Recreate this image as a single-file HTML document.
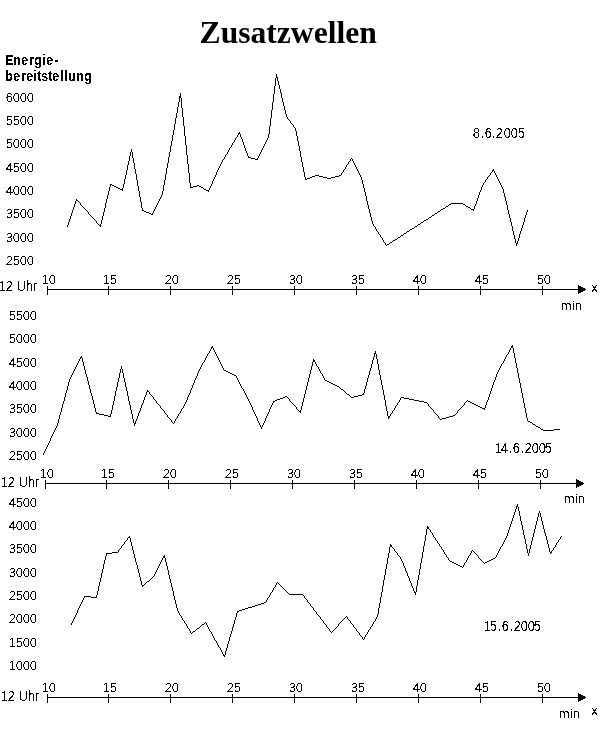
<!DOCTYPE html>
<html lang="de"><head><meta charset="utf-8"><title>Zusatzwellen</title>
<style>
html,body{margin:0;padding:0;background:#fff;}
body{width:606px;height:741px;overflow:hidden;position:relative;font-family:"Liberation Sans",Arial,sans-serif;}
svg{position:absolute;left:0;top:0;display:block;}
text{font-family:"Liberation Sans",Arial,sans-serif;font-size:13px;fill:#000;}
.t{font-family:"Liberation Serif","Times New Roman",serif;font-weight:bold;font-size:31.6px;}
.b{font-weight:bold;}
.c{fill:#000;shape-rendering:crispEdges;}
</style></head><body>
<svg width="606" height="741" viewBox="0 0 606 741">
<defs><filter id="th" x="0" y="0" width="606" height="741" filterUnits="userSpaceOnUse" color-interpolation-filters="sRGB"><feComponentTransfer><feFuncA type="discrete" tableValues="0 1"/></feComponentTransfer></filter></defs>
<rect width="606" height="741" fill="#fff"/>
<text class="t" x="199.6" y="42.5">Zusatzwellen</text>
<g filter="url(#th)">
<text class="b" transform="translate(0,65) scale(1,1.065)" x="5 13 21 29 34 42 46 54" y="0">Energie-</text>
<text class="b" transform="translate(0,81) scale(1,1.065)" x="5 13 21 26 33 37 41 48 52 60 64 68 76 84" y="0">bereitstellung</text>
<text x="5.75 12.75 19.75 26.75" y="102">6000</text>
<text x="5.75 12.75 19.75 26.75" y="125">5500</text>
<text x="5.75 12.75 19.75 26.75" y="148">5000</text>
<text x="5.75 12.75 19.75 26.75" y="172">4500</text>
<text x="5.75 12.75 19.75 26.75" y="195">4000</text>
<text x="5.75 12.75 19.75 26.75" y="218">3500</text>
<text x="5.75 12.75 19.75 26.75" y="242">3000</text>
<text x="5.75 12.75 19.75 26.75" y="265">2500</text>
<text x="8.75 15.75 22.75 29.75" y="320">5500</text>
<text x="8.75 15.75 22.75 29.75" y="343">5000</text>
<text x="8.75 15.75 22.75 29.75" y="367">4500</text>
<text x="8.75 15.75 22.75 29.75" y="390">4000</text>
<text x="8.75 15.75 22.75 29.75" y="413">3500</text>
<text x="8.75 15.75 22.75 29.75" y="437">3000</text>
<text x="8.75 15.75 22.75 29.75" y="460">2500</text>
<text x="8.75 15.75 22.75 29.75" y="507">4500</text>
<text x="8.75 15.75 22.75 29.75" y="530">4000</text>
<text x="8.75 15.75 22.75 29.75" y="553">3500</text>
<text x="8.75 15.75 22.75 29.75" y="577">3000</text>
<text x="8.75 15.75 22.75 29.75" y="600">2500</text>
<text x="8.75 15.75 22.75 29.75" y="623">2000</text>
<text x="8.75 15.75 22.75 29.75" y="647">1500</text>
<text x="8.75 15.75 22.75 29.75" y="670">1000</text>
<text x="41.75 48.75" y="284">10</text>
<text x="102.75 109.75" y="284">15</text>
<text x="164.75 171.75" y="284">20</text>
<text x="226.75 233.75" y="284">25</text>
<text x="288.75 295.75" y="284">30</text>
<text x="350.75 357.75" y="284">35</text>
<text x="412.75 419.75" y="284">40</text>
<text x="474.75 481.75" y="284">45</text>
<text x="536.75 543.75" y="284">50</text>
<text transform="translate(0,291) scale(1,1.065)" x="-1.25 5.75 12.75 16.75 25.75 32.75" y="0">12 Uhr</text>
<text x="560.75 571.75 574.75" y="310">min</text>
<text x="591.25" y="292">x</text>
<text x="39.75 46.75" y="478">10</text>
<text x="100.75 107.75" y="478">15</text>
<text x="162.75 169.75" y="478">20</text>
<text x="224.75 231.75" y="478">25</text>
<text x="286.75 293.75" y="478">30</text>
<text x="348.75 355.75" y="478">35</text>
<text x="410.75 417.75" y="478">40</text>
<text x="472.75 479.75" y="478">45</text>
<text x="534.75 541.75" y="478">50</text>
<text transform="translate(0,487) scale(1,1.065)" x="0.75 7.75 14.75 18.75 27.75 34.75" y="0">12 Uhr</text>
<text x="563.75 574.75 577.75" y="503">min</text>
<text x="41.75 48.75" y="692">10</text>
<text x="102.75 109.75" y="692">15</text>
<text x="164.75 171.75" y="692">20</text>
<text x="226.75 233.75" y="692">25</text>
<text x="288.75 295.75" y="692">30</text>
<text x="350.75 357.75" y="692">35</text>
<text x="412.75 419.75" y="692">40</text>
<text x="474.75 481.75" y="692">45</text>
<text x="536.75 543.75" y="692">50</text>
<text transform="translate(0,701) scale(1,1.065)" x="0.75 7.75 14.75 18.75 27.75 34.75" y="0">12 Uhr</text>
<text x="558.75 569.75 572.75" y="718">min</text>
<text x="591.25" y="715">x</text>
<text transform="translate(0,138) scale(1,1.065)" x="472.75 480.75 484.75 491.75 495.75 503.75 510.75 517.75" y="0">8.6.2005</text>
<text transform="translate(0,453) scale(1,1.065)" x="494.75 500.75 508.75 512.75 520.75 524.75 531.75 538.75 544.75" y="0">14.6.2005</text>
<text transform="translate(0,631) scale(1,1.065)" x="483.75 489.75 497.75 501.75 509.75 513.75 520.75 527.75 533.75" y="0">15.6.2005</text>
</g>
<rect class="c" x="47" y="289" width="532" height="1"/>
<rect class="c" x="47" y="286" width="1" height="9"/>
<rect class="c" x="108" y="286" width="1" height="9"/>
<rect class="c" x="170" y="286" width="1" height="9"/>
<rect class="c" x="232" y="286" width="1" height="9"/>
<rect class="c" x="294" y="286" width="1" height="9"/>
<rect class="c" x="356" y="286" width="1" height="9"/>
<rect class="c" x="418" y="286" width="1" height="9"/>
<rect class="c" x="480" y="286" width="1" height="9"/>
<rect class="c" x="542" y="286" width="1" height="9"/>
<polygon class="c" points="578,285 586.5,289.5 578,294"/>
<rect class="c" x="45" y="483" width="532" height="1"/>
<rect class="c" x="45" y="480" width="1" height="9"/>
<rect class="c" x="106" y="480" width="1" height="9"/>
<rect class="c" x="168" y="480" width="1" height="9"/>
<rect class="c" x="230" y="480" width="1" height="9"/>
<rect class="c" x="292" y="480" width="1" height="9"/>
<rect class="c" x="354" y="480" width="1" height="9"/>
<rect class="c" x="416" y="480" width="1" height="9"/>
<rect class="c" x="478" y="480" width="1" height="9"/>
<rect class="c" x="540" y="480" width="1" height="9"/>
<polygon class="c" points="576,479 584.5,483.5 576,488"/>
<rect class="c" x="47" y="697" width="532" height="1"/>
<rect class="c" x="47" y="694" width="1" height="9"/>
<rect class="c" x="108" y="694" width="1" height="9"/>
<rect class="c" x="170" y="694" width="1" height="9"/>
<rect class="c" x="232" y="694" width="1" height="9"/>
<rect class="c" x="294" y="694" width="1" height="9"/>
<rect class="c" x="356" y="694" width="1" height="9"/>
<rect class="c" x="418" y="694" width="1" height="9"/>
<rect class="c" x="480" y="694" width="1" height="9"/>
<rect class="c" x="542" y="694" width="1" height="9"/>
<polygon class="c" points="578,693 586.5,697.5 578,702"/>
<path class="c" d="M67 225h1v2h-1zM68 222h1v3h-1zM69 219h1v3h-1zM70 216h1v3h-1zM71 213h1v3h-1zM72 210h1v3h-1zM73 207h1v3h-1zM74 204h1v3h-1zM75 201h1v3h-1zM76 199h1v2h-1zM80 203h1v2h-1zM88 212h1v2h-1zM96 221h1v2h-1zM100 224h1v3h-1zM101 220h1v4h-1zM102 216h1v4h-1zM103 212h1v4h-1zM104 208h1v4h-1zM105 203h1v5h-1zM106 199h1v4h-1zM107 195h1v4h-1zM108 191h1v4h-1zM109 187h1v4h-1zM110 184h1v3h-1zM122 188h1v3h-1zM123 184h1v4h-1zM124 179h1v5h-1zM125 175h1v4h-1zM126 170h1v5h-1zM127 165h1v5h-1zM128 161h1v4h-1zM129 156h1v5h-1zM130 152h1v4h-1zM131 149h1v3h-1zM132 152h1v6h-1zM133 158h1v5h-1zM134 163h1v6h-1zM135 169h1v5h-1zM136 174h1v6h-1zM137 180h1v6h-1zM138 186h1v5h-1zM139 191h1v6h-1zM140 197h1v5h-1zM141 202h1v6h-1zM142 208h1v3h-1zM152 213h1v2h-1zM153 211h1v2h-1zM154 209h1v2h-1zM155 207h1v2h-1zM156 205h1v2h-1zM157 203h1v2h-1zM158 201h1v2h-1zM159 199h1v2h-1zM160 197h1v2h-1zM161 195h1v2h-1zM162 191h1v4h-1zM163 185h1v6h-1zM164 180h1v5h-1zM165 174h1v6h-1zM166 168h1v6h-1zM167 163h1v5h-1zM168 157h1v6h-1zM169 152h1v5h-1zM170 146h1v6h-1zM171 141h1v5h-1zM172 135h1v6h-1zM173 130h1v5h-1zM174 124h1v6h-1zM175 118h1v6h-1zM176 113h1v5h-1zM177 107h1v6h-1zM178 102h1v5h-1zM179 96h1v6h-1zM180 93h1v5h-1zM181 98h1v10h-1zM182 108h1v9h-1zM183 117h1v9h-1zM184 126h1v10h-1zM185 136h1v9h-1zM186 145h1v10h-1zM187 155h1v9h-1zM188 164h1v9h-1zM189 173h1v10h-1zM190 183h1v5h-1zM208 190h1v2h-1zM209 188h1v2h-1zM210 186h1v2h-1zM211 184h1v2h-1zM212 181h1v3h-1zM213 179h1v2h-1zM214 177h1v2h-1zM215 175h1v2h-1zM216 172h1v3h-1zM217 170h1v2h-1zM218 168h1v2h-1zM219 166h1v2h-1zM220 164h1v2h-1zM221 162h1v2h-1zM222 160h1v2h-1zM224 157h1v2h-1zM225 155h1v2h-1zM227 152h1v2h-1zM228 150h1v2h-1zM229 148h1v2h-1zM231 145h1v2h-1zM232 143h1v2h-1zM234 140h1v2h-1zM235 138h1v2h-1zM237 135h1v2h-1zM238 133h1v2h-1zM239 132h1v2h-1zM240 134h1v3h-1zM241 137h1v2h-1zM242 139h1v3h-1zM243 142h1v3h-1zM244 145h1v3h-1zM245 148h1v3h-1zM246 151h1v2h-1zM247 153h1v3h-1zM248 156h1v2h-1zM257 158h1v2h-1zM258 156h1v2h-1zM259 154h1v2h-1zM260 152h1v2h-1zM261 150h1v2h-1zM262 148h1v2h-1zM263 146h1v2h-1zM264 144h1v2h-1zM265 142h1v2h-1zM266 140h1v2h-1zM267 138h1v2h-1zM268 134h1v4h-1zM269 126h1v8h-1zM270 118h1v8h-1zM271 110h1v8h-1zM272 102h1v8h-1zM273 94h1v8h-1zM274 86h1v8h-1zM275 78h1v8h-1zM276 74h1v4h-1zM277 77h1v4h-1zM278 81h1v4h-1zM279 85h1v4h-1zM280 89h1v4h-1zM281 93h1v5h-1zM282 98h1v4h-1zM283 102h1v4h-1zM284 106h1v4h-1zM285 110h1v4h-1zM286 114h1v3h-1zM287 117h1v2h-1zM290 121h1v2h-1zM293 125h1v2h-1zM295 128h1v3h-1zM296 131h1v5h-1zM297 136h1v5h-1zM298 141h1v5h-1zM299 146h1v5h-1zM300 151h1v6h-1zM301 157h1v5h-1zM302 162h1v5h-1zM303 167h1v5h-1zM304 172h1v5h-1zM305 177h1v3h-1zM341 173h1v2h-1zM343 170h1v2h-1zM345 167h1v2h-1zM346 165h1v2h-1zM348 162h1v2h-1zM350 159h1v2h-1zM352 159h1v2h-1zM353 161h1v2h-1zM354 163h1v2h-1zM355 165h1v2h-1zM356 167h1v2h-1zM357 169h1v2h-1zM358 171h1v2h-1zM359 173h1v2h-1zM360 175h1v2h-1zM361 177h1v3h-1zM362 180h1v4h-1zM363 184h1v4h-1zM364 188h1v4h-1zM365 192h1v4h-1zM366 196h1v5h-1zM367 201h1v4h-1zM368 205h1v4h-1zM369 209h1v4h-1zM370 213h1v4h-1zM371 217h1v4h-1zM372 221h1v3h-1zM373 224h1v2h-1zM375 227h1v2h-1zM376 229h1v2h-1zM378 232h1v2h-1zM380 235h1v2h-1zM382 238h1v2h-1zM383 240h1v2h-1zM385 243h1v2h-1zM473 209h1v2h-1zM474 206h1v3h-1zM475 204h1v2h-1zM476 201h1v3h-1zM477 198h1v3h-1zM478 195h1v3h-1zM479 192h1v3h-1zM480 190h1v2h-1zM481 187h1v3h-1zM482 185h1v2h-1zM483 183h1v2h-1zM485 180h1v2h-1zM487 177h1v2h-1zM490 173h1v2h-1zM492 170h1v2h-1zM493 169h1v2h-1zM494 171h1v2h-1zM495 173h1v2h-1zM496 175h1v2h-1zM497 177h1v2h-1zM498 179h1v2h-1zM499 181h1v2h-1zM500 183h1v2h-1zM501 185h1v2h-1zM502 187h1v2h-1zM503 189h1v4h-1zM504 193h1v4h-1zM505 197h1v4h-1zM506 201h1v4h-1zM507 205h1v5h-1zM508 210h1v4h-1zM509 214h1v4h-1zM510 218h1v4h-1zM511 222h1v4h-1zM512 226h1v5h-1zM513 231h1v4h-1zM514 235h1v4h-1zM515 239h1v4h-1zM516 243h1v3h-1zM517 241h1v3h-1zM518 238h1v3h-1zM519 234h1v4h-1zM520 231h1v3h-1zM521 228h1v3h-1zM522 225h1v3h-1zM523 222h1v3h-1zM524 218h1v4h-1zM525 215h1v3h-1zM526 212h1v3h-1zM527 210h1v2h-1zM77 200h1v1h-1zM78 201h1v1h-1zM79 202h1v1h-1zM81 205h1v1h-1zM82 206h1v1h-1zM83 207h1v1h-1zM84 208h1v1h-1zM85 209h1v1h-1zM86 210h1v1h-1zM87 211h1v1h-1zM89 214h1v1h-1zM90 215h1v1h-1zM91 216h1v1h-1zM92 217h1v1h-1zM93 218h1v1h-1zM94 219h1v1h-1zM95 220h1v1h-1zM97 223h1v1h-1zM98 224h1v1h-1zM99 225h1v1h-1zM111 184h1v1h-1zM112 185h2v1h-2zM114 186h2v1h-2zM116 187h2v1h-2zM118 188h2v1h-2zM120 189h2v1h-2zM143 210h1v1h-1zM144 211h2v1h-2zM146 212h3v1h-3zM149 213h2v1h-2zM151 214h1v1h-1zM191 187h2v1h-2zM193 186h4v1h-4zM197 185h2v1h-2zM199 186h2v1h-2zM201 187h2v1h-2zM203 188h1v1h-1zM204 189h2v1h-2zM206 190h2v1h-2zM223 159h1v1h-1zM226 154h1v1h-1zM230 147h1v1h-1zM233 142h1v1h-1zM236 137h1v1h-1zM249 157h2v1h-2zM251 158h4v1h-4zM255 159h2v1h-2zM288 119h1v1h-1zM289 120h1v1h-1zM291 123h1v1h-1zM292 124h1v1h-1zM294 127h1v1h-1zM306 179h1v1h-1zM307 178h3v1h-3zM310 177h2v1h-2zM312 176h3v1h-3zM315 175h4v1h-4zM319 176h4v1h-4zM323 177h4v1h-4zM327 178h4v1h-4zM331 177h4v1h-4zM335 176h4v1h-4zM339 175h2v1h-2zM342 172h1v1h-1zM344 169h1v1h-1zM347 164h1v1h-1zM349 161h1v1h-1zM351 158h1v1h-1zM374 226h1v1h-1zM377 231h1v1h-1zM379 234h1v1h-1zM381 237h1v1h-1zM384 242h1v1h-1zM386 245h1v1h-1zM387 244h2v1h-2zM389 243h1v1h-1zM390 242h2v1h-2zM392 241h1v1h-1zM393 240h2v1h-2zM395 239h2v1h-2zM397 238h1v1h-1zM398 237h2v1h-2zM400 236h1v1h-1zM401 235h2v1h-2zM403 234h1v1h-1zM404 233h2v1h-2zM406 232h1v1h-1zM407 231h2v1h-2zM409 230h1v1h-1zM410 229h2v1h-2zM412 228h2v1h-2zM414 227h1v1h-1zM415 226h2v1h-2zM417 225h1v1h-1zM418 224h2v1h-2zM420 223h1v1h-1zM421 222h2v1h-2zM423 221h1v1h-1zM424 220h2v1h-2zM426 219h2v1h-2zM428 218h1v1h-1zM429 217h2v1h-2zM431 216h1v1h-1zM432 215h2v1h-2zM434 214h1v1h-1zM435 213h2v1h-2zM437 212h1v1h-1zM438 211h2v1h-2zM440 210h1v1h-1zM441 209h2v1h-2zM443 208h2v1h-2zM445 207h1v1h-1zM446 206h2v1h-2zM448 205h1v1h-1zM449 204h2v1h-2zM451 203h12v1h-12zM463 204h2v1h-2zM465 205h1v1h-1zM466 206h2v1h-2zM468 207h2v1h-2zM470 208h1v1h-1zM471 209h2v1h-2zM484 182h1v1h-1zM486 179h1v1h-1zM488 176h1v1h-1zM489 175h1v1h-1zM491 172h1v1h-1z"/>
<path class="c" d="M43 453h1v2h-1zM44 451h1v2h-1zM45 449h1v2h-1zM46 447h1v2h-1zM47 445h1v2h-1zM48 443h1v2h-1zM49 441h1v2h-1zM50 438h1v3h-1zM51 436h1v2h-1zM52 434h1v2h-1zM53 432h1v2h-1zM54 430h1v2h-1zM55 428h1v2h-1zM56 426h1v2h-1zM57 423h1v3h-1zM58 419h1v4h-1zM59 415h1v4h-1zM60 412h1v3h-1zM61 408h1v4h-1zM62 404h1v4h-1zM63 401h1v3h-1zM64 397h1v4h-1zM65 393h1v4h-1zM66 390h1v3h-1zM67 386h1v4h-1zM68 382h1v4h-1zM69 379h1v3h-1zM70 377h1v2h-1zM71 375h1v2h-1zM72 373h1v2h-1zM73 371h1v2h-1zM74 369h1v2h-1zM75 367h1v2h-1zM76 365h1v2h-1zM77 363h1v2h-1zM78 361h1v2h-1zM79 359h1v2h-1zM80 357h1v2h-1zM81 356h1v2h-1zM82 358h1v4h-1zM83 362h1v4h-1zM84 366h1v4h-1zM85 370h1v4h-1zM86 374h1v3h-1zM87 377h1v4h-1zM88 381h1v4h-1zM89 385h1v4h-1zM90 389h1v4h-1zM91 393h1v3h-1zM92 396h1v4h-1zM93 400h1v4h-1zM94 404h1v4h-1zM95 408h1v4h-1zM96 412h1v2h-1zM110 414h1v3h-1zM111 410h1v4h-1zM112 405h1v5h-1zM113 401h1v4h-1zM114 396h1v5h-1zM115 391h1v5h-1zM116 387h1v4h-1zM117 382h1v5h-1zM118 378h1v4h-1zM119 373h1v5h-1zM120 369h1v4h-1zM121 366h1v3h-1zM122 369h1v4h-1zM123 373h1v5h-1zM124 378h1v4h-1zM125 382h1v5h-1zM126 387h1v4h-1zM127 391h1v5h-1zM128 396h1v5h-1zM129 401h1v4h-1zM130 405h1v5h-1zM131 410h1v4h-1zM132 414h1v5h-1zM133 419h1v4h-1zM134 423h1v3h-1zM135 421h1v3h-1zM136 419h1v2h-1zM137 416h1v3h-1zM138 413h1v3h-1zM139 411h1v2h-1zM140 408h1v3h-1zM141 405h1v3h-1zM142 403h1v2h-1zM143 400h1v3h-1zM144 397h1v3h-1zM145 395h1v2h-1zM146 392h1v3h-1zM147 390h1v2h-1zM149 392h1v2h-1zM153 397h1v2h-1zM156 401h1v2h-1zM160 406h1v2h-1zM164 411h1v2h-1zM167 415h1v2h-1zM171 420h1v2h-1zM174 421h1v2h-1zM175 419h1v2h-1zM177 416h1v2h-1zM178 414h1v2h-1zM180 411h1v2h-1zM181 409h1v2h-1zM183 406h1v2h-1zM184 404h1v2h-1zM185 402h1v2h-1zM186 400h1v2h-1zM187 397h1v3h-1zM188 395h1v2h-1zM189 393h1v2h-1zM190 390h1v3h-1zM191 388h1v2h-1zM192 385h1v3h-1zM193 383h1v2h-1zM194 380h1v3h-1zM195 378h1v2h-1zM196 376h1v2h-1zM197 373h1v3h-1zM198 371h1v2h-1zM199 369h1v2h-1zM200 367h1v2h-1zM201 365h1v2h-1zM202 363h1v2h-1zM204 360h1v2h-1zM205 358h1v2h-1zM206 356h1v2h-1zM207 354h1v2h-1zM209 351h1v2h-1zM210 349h1v2h-1zM211 347h1v2h-1zM212 346h1v2h-1zM213 348h1v2h-1zM214 350h1v2h-1zM215 352h1v2h-1zM216 354h1v2h-1zM217 356h1v2h-1zM218 358h1v2h-1zM219 360h1v2h-1zM220 362h1v2h-1zM221 364h1v2h-1zM222 366h1v2h-1zM223 368h1v2h-1zM236 376h1v2h-1zM237 378h1v2h-1zM238 380h1v2h-1zM239 382h1v2h-1zM240 384h1v2h-1zM241 386h1v2h-1zM243 389h1v2h-1zM244 391h1v2h-1zM245 393h1v2h-1zM246 395h1v2h-1zM247 397h1v2h-1zM248 399h1v2h-1zM249 401h1v2h-1zM250 403h1v2h-1zM251 405h1v2h-1zM252 407h1v3h-1zM253 410h1v2h-1zM254 412h1v2h-1zM255 414h1v2h-1zM256 416h1v2h-1zM257 418h1v3h-1zM258 421h1v2h-1zM259 423h1v2h-1zM260 425h1v2h-1zM261 427h1v2h-1zM262 425h1v2h-1zM263 423h1v2h-1zM264 421h1v2h-1zM265 418h1v3h-1zM266 416h1v2h-1zM267 414h1v2h-1zM268 412h1v2h-1zM269 409h1v3h-1zM270 407h1v2h-1zM271 405h1v2h-1zM272 403h1v2h-1zM273 401h1v2h-1zM289 399h1v2h-1zM296 407h1v2h-1zM300 410h1v3h-1zM301 406h1v4h-1zM302 402h1v4h-1zM303 398h1v4h-1zM304 394h1v4h-1zM305 390h1v4h-1zM306 386h1v4h-1zM307 382h1v4h-1zM308 378h1v4h-1zM309 374h1v4h-1zM310 370h1v4h-1zM311 366h1v4h-1zM312 362h1v4h-1zM313 359h1v3h-1zM314 360h1v2h-1zM315 362h1v2h-1zM316 364h1v2h-1zM318 367h1v2h-1zM319 369h1v2h-1zM320 371h1v2h-1zM322 374h1v2h-1zM323 376h1v2h-1zM324 378h1v2h-1zM363 393h1v2h-1zM364 389h1v4h-1zM365 386h1v3h-1zM366 382h1v4h-1zM367 378h1v4h-1zM368 375h1v3h-1zM369 371h1v4h-1zM370 368h1v3h-1zM371 364h1v4h-1zM372 360h1v4h-1zM373 357h1v3h-1zM374 353h1v4h-1zM375 351h1v3h-1zM376 354h1v5h-1zM377 359h1v5h-1zM378 364h1v6h-1zM379 370h1v5h-1zM380 375h1v5h-1zM381 380h1v5h-1zM382 385h1v5h-1zM383 390h1v5h-1zM384 395h1v5h-1zM385 400h1v6h-1zM386 406h1v5h-1zM387 411h1v5h-1zM388 416h1v3h-1zM389 416h1v2h-1zM390 414h1v2h-1zM392 411h1v2h-1zM394 408h1v2h-1zM395 406h1v2h-1zM397 403h1v2h-1zM399 400h1v2h-1zM400 398h1v2h-1zM428 404h1v2h-1zM433 410h1v2h-1zM438 416h1v2h-1zM457 411h1v2h-1zM464 403h1v2h-1zM484 408h1v2h-1zM485 405h1v3h-1zM486 402h1v3h-1zM487 400h1v2h-1zM488 397h1v3h-1zM489 394h1v3h-1zM490 391h1v3h-1zM491 388h1v3h-1zM492 385h1v3h-1zM493 382h1v3h-1zM494 380h1v2h-1zM495 377h1v3h-1zM496 374h1v3h-1zM497 372h1v2h-1zM498 370h1v2h-1zM499 368h1v2h-1zM500 366h1v2h-1zM501 364h1v2h-1zM503 361h1v2h-1zM504 359h1v2h-1zM505 357h1v2h-1zM506 355h1v2h-1zM508 352h1v2h-1zM509 350h1v2h-1zM510 348h1v2h-1zM511 346h1v2h-1zM512 345h1v3h-1zM513 348h1v5h-1zM514 353h1v5h-1zM515 358h1v5h-1zM516 363h1v5h-1zM517 368h1v5h-1zM518 373h1v5h-1zM519 378h1v5h-1zM520 383h1v5h-1zM521 388h1v5h-1zM522 393h1v5h-1zM523 398h1v5h-1zM524 403h1v5h-1zM525 408h1v5h-1zM526 413h1v5h-1zM527 418h1v3h-1zM97 413h2v1h-2zM99 414h5v1h-5zM104 415h4v1h-4zM108 416h2v1h-2zM148 391h1v1h-1zM150 394h1v1h-1zM151 395h1v1h-1zM152 396h1v1h-1zM154 399h1v1h-1zM155 400h1v1h-1zM157 403h1v1h-1zM158 404h1v1h-1zM159 405h1v1h-1zM161 408h1v1h-1zM162 409h1v1h-1zM163 410h1v1h-1zM165 413h1v1h-1zM166 414h1v1h-1zM168 417h1v1h-1zM169 418h1v1h-1zM170 419h1v1h-1zM172 422h1v1h-1zM173 423h1v1h-1zM176 418h1v1h-1zM179 413h1v1h-1zM182 408h1v1h-1zM203 362h1v1h-1zM208 353h1v1h-1zM224 370h2v1h-2zM226 371h2v1h-2zM228 372h2v1h-2zM230 373h2v1h-2zM232 374h2v1h-2zM234 375h2v1h-2zM242 388h1v1h-1zM274 401h1v1h-1zM275 400h2v1h-2zM277 399h3v1h-3zM280 398h3v1h-3zM283 397h2v1h-2zM285 396h2v1h-2zM287 397h1v1h-1zM288 398h1v1h-1zM290 401h1v1h-1zM291 402h1v1h-1zM292 403h1v1h-1zM293 404h1v1h-1zM294 405h1v1h-1zM295 406h1v1h-1zM297 409h1v1h-1zM298 410h1v1h-1zM299 411h1v1h-1zM317 366h1v1h-1zM321 373h1v1h-1zM325 380h2v1h-2zM327 381h2v1h-2zM329 382h2v1h-2zM331 383h2v1h-2zM333 384h2v1h-2zM335 385h2v1h-2zM337 386h2v1h-2zM339 387h1v1h-1zM340 388h1v1h-1zM341 389h2v1h-2zM343 390h1v1h-1zM344 391h1v1h-1zM345 392h1v1h-1zM346 393h1v1h-1zM347 394h2v1h-2zM349 395h1v1h-1zM350 396h1v1h-1zM351 397h3v1h-3zM354 396h4v1h-4zM358 395h4v1h-4zM362 394h1v1h-1zM391 413h1v1h-1zM393 410h1v1h-1zM396 405h1v1h-1zM398 402h1v1h-1zM401 397h3v1h-3zM404 398h5v1h-5zM409 399h5v1h-5zM414 400h5v1h-5zM419 401h5v1h-5zM424 402h3v1h-3zM427 403h1v1h-1zM429 406h1v1h-1zM430 407h1v1h-1zM431 408h1v1h-1zM432 409h1v1h-1zM434 412h1v1h-1zM435 413h1v1h-1zM436 414h1v1h-1zM437 415h1v1h-1zM439 418h1v1h-1zM440 419h2v1h-2zM442 418h4v1h-4zM446 417h3v1h-3zM449 416h4v1h-4zM453 415h2v1h-2zM455 414h1v1h-1zM456 413h1v1h-1zM458 410h1v1h-1zM459 409h1v1h-1zM460 408h1v1h-1zM461 407h1v1h-1zM462 406h1v1h-1zM463 405h1v1h-1zM465 402h1v1h-1zM466 401h1v1h-1zM467 400h1v1h-1zM468 401h2v1h-2zM470 402h2v1h-2zM472 403h2v1h-2zM474 404h2v1h-2zM476 405h2v1h-2zM478 406h2v1h-2zM480 407h2v1h-2zM482 408h2v1h-2zM502 363h1v1h-1zM507 354h1v1h-1zM528 421h2v1h-2zM530 422h2v1h-2zM532 423h1v1h-1zM533 424h2v1h-2zM535 425h1v1h-1zM536 426h2v1h-2zM538 427h2v1h-2zM540 428h1v1h-1zM541 429h2v1h-2zM543 430h11v1h-11zM554 429h6v1h-6z"/>
<path class="c" d="M71 623h1v2h-1zM72 621h1v2h-1zM73 619h1v2h-1zM74 617h1v2h-1zM75 615h1v2h-1zM76 613h1v2h-1zM77 610h1v3h-1zM78 608h1v2h-1zM79 606h1v2h-1zM80 604h1v2h-1zM81 602h1v2h-1zM82 600h1v2h-1zM83 598h1v2h-1zM84 596h1v2h-1zM96 595h1v3h-1zM97 591h1v4h-1zM98 586h1v5h-1zM99 582h1v4h-1zM100 578h1v4h-1zM101 573h1v5h-1zM102 569h1v4h-1zM103 564h1v5h-1zM104 560h1v4h-1zM105 556h1v4h-1zM106 553h1v3h-1zM118 550h1v2h-1zM121 546h1v2h-1zM124 542h1v2h-1zM127 538h1v2h-1zM129 536h1v2h-1zM130 538h1v4h-1zM131 542h1v4h-1zM132 546h1v4h-1zM133 550h1v4h-1zM134 554h1v4h-1zM135 558h1v4h-1zM136 562h1v3h-1zM137 565h1v4h-1zM138 569h1v4h-1zM139 573h1v4h-1zM140 577h1v4h-1zM141 581h1v4h-1zM142 585h1v2h-1zM154 574h1v2h-1zM155 572h1v2h-1zM156 570h1v2h-1zM157 568h1v2h-1zM158 566h1v2h-1zM159 564h1v2h-1zM160 562h1v2h-1zM161 560h1v2h-1zM162 558h1v2h-1zM163 556h1v2h-1zM164 555h1v3h-1zM165 558h1v4h-1zM166 562h1v4h-1zM167 566h1v4h-1zM168 570h1v5h-1zM169 575h1v4h-1zM170 579h1v4h-1zM171 583h1v4h-1zM172 587h1v4h-1zM173 591h1v5h-1zM174 596h1v4h-1zM175 600h1v4h-1zM176 604h1v4h-1zM177 608h1v3h-1zM178 611h1v2h-1zM179 613h1v2h-1zM181 616h1v2h-1zM182 618h1v2h-1zM184 621h1v2h-1zM186 624h1v2h-1zM187 626h1v2h-1zM189 629h1v2h-1zM190 631h1v2h-1zM206 623h1v2h-1zM207 625h1v2h-1zM208 627h1v2h-1zM209 629h1v2h-1zM211 632h1v2h-1zM212 634h1v2h-1zM213 636h1v2h-1zM214 638h1v2h-1zM216 641h1v2h-1zM217 643h1v2h-1zM218 645h1v2h-1zM220 648h1v2h-1zM221 650h1v2h-1zM222 652h1v2h-1zM223 654h1v2h-1zM224 655h1v2h-1zM225 651h1v4h-1zM226 648h1v3h-1zM227 644h1v4h-1zM228 641h1v3h-1zM229 637h1v4h-1zM230 634h1v3h-1zM231 631h1v3h-1zM232 627h1v4h-1zM233 624h1v3h-1zM234 620h1v4h-1zM235 617h1v3h-1zM236 613h1v4h-1zM237 611h1v2h-1zM266 600h1v2h-1zM267 598h1v2h-1zM269 595h1v2h-1zM270 593h1v2h-1zM272 590h1v2h-1zM273 588h1v2h-1zM275 585h1v2h-1zM276 583h1v2h-1zM304 596h1v2h-1zM307 600h1v2h-1zM310 604h1v2h-1zM313 608h1v2h-1zM316 612h1v2h-1zM320 617h1v2h-1zM323 621h1v2h-1zM326 625h1v2h-1zM329 629h1v2h-1zM338 624h1v2h-1zM347 617h1v2h-1zM350 621h1v2h-1zM353 625h1v2h-1zM356 629h1v2h-1zM359 633h1v2h-1zM362 637h1v2h-1zM364 637h1v2h-1zM365 635h1v2h-1zM367 632h1v2h-1zM368 630h1v2h-1zM370 627h1v2h-1zM372 624h1v2h-1zM373 622h1v2h-1zM375 619h1v2h-1zM376 617h1v2h-1zM377 614h1v3h-1zM378 608h1v6h-1zM379 603h1v5h-1zM380 597h1v6h-1zM381 592h1v5h-1zM382 586h1v6h-1zM383 580h1v6h-1zM384 575h1v5h-1zM385 569h1v6h-1zM386 564h1v5h-1zM387 558h1v6h-1zM388 553h1v5h-1zM389 547h1v6h-1zM390 544h1v3h-1zM391 545h1v2h-1zM394 549h1v2h-1zM397 553h1v2h-1zM400 557h1v2h-1zM401 559h1v2h-1zM402 561h1v2h-1zM403 563h1v3h-1zM404 566h1v2h-1zM405 568h1v3h-1zM406 571h1v2h-1zM407 573h1v3h-1zM408 576h1v2h-1zM409 578h1v3h-1zM410 581h1v2h-1zM411 583h1v3h-1zM412 586h1v2h-1zM413 588h1v3h-1zM414 591h1v2h-1zM415 592h1v3h-1zM416 586h1v6h-1zM417 580h1v6h-1zM418 575h1v5h-1zM419 569h1v6h-1zM420 563h1v6h-1zM421 558h1v5h-1zM422 552h1v6h-1zM423 546h1v6h-1zM424 541h1v5h-1zM425 535h1v6h-1zM426 529h1v6h-1zM427 526h1v3h-1zM428 527h1v2h-1zM430 530h1v2h-1zM432 533h1v2h-1zM433 535h1v2h-1zM435 538h1v2h-1zM437 541h1v2h-1zM439 544h1v2h-1zM441 547h1v2h-1zM443 550h1v2h-1zM444 552h1v2h-1zM446 555h1v2h-1zM448 558h1v2h-1zM463 565h1v2h-1zM464 563h1v2h-1zM466 560h1v2h-1zM467 558h1v2h-1zM468 556h1v2h-1zM470 553h1v2h-1zM471 551h1v2h-1zM478 556h1v2h-1zM496 555h1v2h-1zM497 553h1v2h-1zM498 551h1v2h-1zM499 549h1v2h-1zM500 547h1v2h-1zM502 544h1v2h-1zM503 542h1v2h-1zM504 540h1v2h-1zM505 538h1v2h-1zM506 536h1v2h-1zM507 533h1v3h-1zM508 530h1v3h-1zM509 527h1v3h-1zM510 524h1v3h-1zM511 521h1v3h-1zM512 518h1v3h-1zM513 515h1v3h-1zM514 512h1v3h-1zM515 509h1v3h-1zM516 506h1v3h-1zM517 504h1v3h-1zM518 507h1v4h-1zM519 511h1v5h-1zM520 516h1v5h-1zM521 521h1v4h-1zM522 525h1v5h-1zM523 530h1v5h-1zM524 535h1v4h-1zM525 539h1v5h-1zM526 544h1v5h-1zM527 549h1v4h-1zM528 553h1v3h-1zM529 549h1v4h-1zM530 545h1v4h-1zM531 541h1v4h-1zM532 537h1v4h-1zM533 533h1v4h-1zM534 529h1v4h-1zM535 525h1v4h-1zM536 521h1v4h-1zM537 517h1v4h-1zM538 513h1v4h-1zM539 511h1v2h-1zM540 513h1v4h-1zM541 517h1v4h-1zM542 521h1v4h-1zM543 525h1v4h-1zM544 529h1v4h-1zM545 533h1v3h-1zM546 536h1v4h-1zM547 540h1v4h-1zM548 544h1v4h-1zM549 548h1v4h-1zM550 552h1v2h-1zM551 551h1v2h-1zM553 548h1v2h-1zM555 545h1v2h-1zM556 543h1v2h-1zM558 540h1v2h-1zM560 537h1v2h-1zM85 596h6v1h-6zM91 597h5v1h-5zM107 553h5v1h-5zM112 552h6v1h-6zM119 549h1v1h-1zM120 548h1v1h-1zM122 545h1v1h-1zM123 544h1v1h-1zM125 541h1v1h-1zM126 540h1v1h-1zM128 537h1v1h-1zM143 585h1v1h-1zM144 584h1v1h-1zM145 583h1v1h-1zM146 582h1v1h-1zM147 581h2v1h-2zM149 580h1v1h-1zM150 579h1v1h-1zM151 578h1v1h-1zM152 577h1v1h-1zM153 576h1v1h-1zM180 615h1v1h-1zM183 620h1v1h-1zM185 623h1v1h-1zM188 628h1v1h-1zM191 633h1v1h-1zM192 632h1v1h-1zM193 631h2v1h-2zM195 630h1v1h-1zM196 629h1v1h-1zM197 628h2v1h-2zM199 627h1v1h-1zM200 626h1v1h-1zM201 625h1v1h-1zM202 624h2v1h-2zM204 623h1v1h-1zM205 622h1v1h-1zM210 631h1v1h-1zM215 640h1v1h-1zM219 647h1v1h-1zM238 611h1v1h-1zM239 610h3v1h-3zM242 609h3v1h-3zM245 608h3v1h-3zM248 607h4v1h-4zM252 606h3v1h-3zM255 605h3v1h-3zM258 604h3v1h-3zM261 603h3v1h-3zM264 602h2v1h-2zM268 597h1v1h-1zM271 592h1v1h-1zM274 587h1v1h-1zM277 582h1v1h-1zM278 583h1v1h-1zM279 584h1v1h-1zM280 585h1v1h-1zM281 586h1v1h-1zM282 587h1v1h-1zM283 588h1v1h-1zM284 589h1v1h-1zM285 590h1v1h-1zM286 591h1v1h-1zM287 592h1v1h-1zM288 593h1v1h-1zM289 594h14v1h-14zM303 595h1v1h-1zM305 598h1v1h-1zM306 599h1v1h-1zM308 602h1v1h-1zM309 603h1v1h-1zM311 606h1v1h-1zM312 607h1v1h-1zM314 610h1v1h-1zM315 611h1v1h-1zM317 614h1v1h-1zM318 615h1v1h-1zM319 616h1v1h-1zM321 619h1v1h-1zM322 620h1v1h-1zM324 623h1v1h-1zM325 624h1v1h-1zM327 627h1v1h-1zM328 628h1v1h-1zM330 631h1v1h-1zM331 632h1v1h-1zM332 631h1v1h-1zM333 630h1v1h-1zM334 629h1v1h-1zM335 628h1v1h-1zM336 627h1v1h-1zM337 626h1v1h-1zM339 623h1v1h-1zM340 622h1v1h-1zM341 621h1v1h-1zM342 620h1v1h-1zM343 619h1v1h-1zM344 618h1v1h-1zM345 617h1v1h-1zM346 616h1v1h-1zM348 619h1v1h-1zM349 620h1v1h-1zM351 623h1v1h-1zM352 624h1v1h-1zM354 627h1v1h-1zM355 628h1v1h-1zM357 631h1v1h-1zM358 632h1v1h-1zM360 635h1v1h-1zM361 636h1v1h-1zM363 639h1v1h-1zM366 634h1v1h-1zM369 629h1v1h-1zM371 626h1v1h-1zM374 621h1v1h-1zM392 547h1v1h-1zM393 548h1v1h-1zM395 551h1v1h-1zM396 552h1v1h-1zM398 555h1v1h-1zM399 556h1v1h-1zM429 529h1v1h-1zM431 532h1v1h-1zM434 537h1v1h-1zM436 540h1v1h-1zM438 543h1v1h-1zM440 546h1v1h-1zM442 549h1v1h-1zM445 554h1v1h-1zM447 557h1v1h-1zM449 560h1v1h-1zM450 561h2v1h-2zM452 562h2v1h-2zM454 563h2v1h-2zM456 564h2v1h-2zM458 565h2v1h-2zM460 566h2v1h-2zM462 567h1v1h-1zM465 562h1v1h-1zM469 555h1v1h-1zM472 550h1v1h-1zM473 551h1v1h-1zM474 552h1v1h-1zM475 553h1v1h-1zM476 554h1v1h-1zM477 555h1v1h-1zM479 558h1v1h-1zM480 559h1v1h-1zM481 560h1v1h-1zM482 561h1v1h-1zM483 562h1v1h-1zM484 563h1v1h-1zM485 562h2v1h-2zM487 561h2v1h-2zM489 560h2v1h-2zM491 559h2v1h-2zM493 558h2v1h-2zM495 557h1v1h-1zM501 546h1v1h-1zM552 550h1v1h-1zM554 547h1v1h-1zM557 542h1v1h-1zM559 539h1v1h-1zM561 536h1v1h-1z"/>
</svg>
</body></html>
